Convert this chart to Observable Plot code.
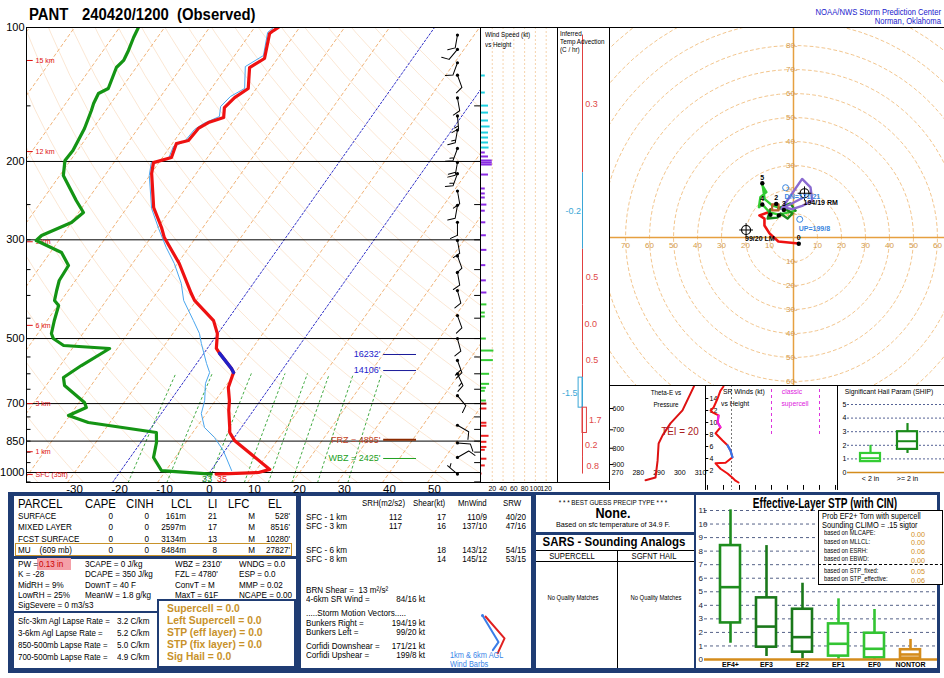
<!DOCTYPE html>
<html>
<head>
<meta charset="utf-8">
<script src="https://cdn.jsdelivr.net/npm/d3@7"></script>
<script src="https://cdn.jsdelivr.net/npm/@observablehq/plot@0.6"></script>
<style>
html,body{margin:0;padding:0;background:#fff;}
#root{position:relative;width:944px;height:678px;overflow:hidden;background:#fff;font-family:"Liberation Sans",Arial,Helvetica,sans-serif;}
.t{position:absolute;white-space:pre;}
.b{position:absolute;box-sizing:border-box;}
</style>
</head>
<body>
<div id="root"></div>
<script>
// ================= DATA =================
// Skew-T profiles (pressure hPa, temperature C)
const tempP = [100,101.6,103.2,117.4,123,137.1,143.7,151.3,159.3,163.5,168.6,179.5,182.3,196,201.2,212.8,253.8,281.5,296.5,339.1,396.1,410.5,455.6,487.4,526.2,539.8,583.7,595.9,644,689,725,792,813,847,984,1000,1008];
const tempT = [-54.7,-55.3,-55.7,-52.9,-54.8,-51.8,-53.4,-54.1,-52.7,-55.3,-56.6,-56.9,-59.1,-58,-61.2,-59.9,-54.1,-49.2,-47,-39.6,-32.2,-30.4,-23,-20.1,-18,-16.5,-11.5,-10.4,-9.2,-6.9,-5.5,-2.6,-1.8,0.5,12.9,10.9,1.7];
const dewP = [100,105.3,112.6,118.6,123,137.1,140.7,148.2,153.6,168.6,189,199,215.1,244.8,260.5,274.3,293.4,301.1,320.3,342.6,370.3,389.9,410.6,421.4,455.4,487.1,499.9,518.3,526.4,574.9,611.7,637.5,696.1,714.4,744.6,772.1,813,856.2,925.4,989.8,1008];
const dewT = [-85.8,-85.3,-84.4,-83.9,-84.4,-82.9,-84.3,-83.8,-83.2,-81.9,-81,-81.2,-79.2,-72.4,-68.9,-70,-74.6,-75,-67.5,-63.9,-63.6,-62.6,-61.5,-59.8,-58.4,-57,-55.8,-52.4,-41.7,-45.3,-47.4,-45.9,-38.8,-37.6,-40.3,-34.8,-18.1,-16.5,-14.8,-11,0.6];
const wbP = [100,102.6,115.6,122.4,137.1,142.9,150.5,158.5,164.3,169.5,180.4,185.1,197,201.1,215.1,255.1,282.9,312.2,339.1,376.1,410.6,455.4,487.1,513,569,596.1,631,688.9,737,792.2,834.3,892.4,989.8];
const wbT = [-55.8,-56.3,-53.6,-55.9,-52.6,-54.5,-55.1,-53.8,-56.2,-57.3,-57.6,-59.3,-58.5,-61.7,-60.1,-54.4,-49.7,-45,-40.7,-36,-32.8,-27.5,-24.1,-22.1,-17.8,-15.7,-14.9,-12.4,-11.1,-8.2,-4.4,-0.4,4.6];
const sfcTempF = "35", sfcDewF = "33";
const dgzTop = 539, dgzBot = 597;

// axes / grid values
const pLabels = [100,200,300,500,700,850,1000];
const pLines = [200,300,500,700,850,1000];
const pTicks = [150,200,250,300,350,400,450,500,550,600,650,700,750,800,850,900,950,1000,1050];
const tTicks = [-30,-20,-10,0,10,20,30,40,50];
const isoTemps = [-120,-110,-100,-90,-80,-70,-60,-50,-40,-30,-10,10,20,30,40,50];
const blueIso = [-20,0];
const thetaC = [-40,-30,-20,-10,0,10,20,30,40,50,60,70,80,90,100,110,120,130,140,150,160,170,180,190,200];
const mixW = [1,2,4,7,10,14,20,30];
const hgtLabels = ["15 km","12 km","9 km","6 km","3 km","1 km","SFC (35ft)"];
const hgtP = [118.6,190,303,467,700,898,1010];
const lvlText = ["16232'","14106'","FRZ = 4895'","WBZ = 2425'"];
const lvlP = [543,590,844,930];
const lvlColor = ["#2222cc","#2222cc","#c0401c","#22a022"];
const lvlLine = ["#1a1a99","#1a1a99","#8b2a00","#22a022"];

// wind speed vs height bars
const windP = [128.2,140,149.8,155.3,161.8,166.9,172.2,176.7,181.3,186.1,190.9,194.9,199,201.1,203.2,214,230,236,241,250,258,274,293,316,342,370,394,419,437,446,500,532,559,600,632,645,655,689,700,718,773,785,827,853,876,889,931,964,1005];
const windSpd = [7,7,13,13,13,16,13,13,13,14,7,13,20,20,20,13,7,7,7,10,7,8,9,10,8,9,10,10,7,7,9,23,22,15,15,9,7,9,10,10,10,10,14,10,10,7,10,7,1];
const spdTicks = [20,40,60,80,100,120];
// wind barbs
const barbP = [104,112,120,128,144,158,170,187,201,213,233,251,274,301,326,355,390,444,500,560,600,672,783,858,925,1008];
const barbDir = [190,220,200,160,170,175,190,200,190,200,170,190,180,170,160,170,165,160,165,160,155,140,120,95,60,310];
const barbSpd = [10,10,10,10,10,15,15,15,20,15,10,10,10,10,10,10,10,10,10,20,15,10,10,10,10,5];

// inferred temperature advection layers (C/hr)
const advTop = [104,212,315,420,510,612,715,815,925];
const advBot = [212,315,420,510,612,715,815,925,1008];
const advVal = [0.3,-0.2,0.5,0.0,0.5,-1.5,1.7,0.2,0.8];

// hodograph (u,v kt)
const hodoRed = [[2.1,-2.5],[-6.3,-1.7],[-10,1.7],[-12.1,5],[-12.1,7.9],[-14.2,9.2],[-10.8,10.4],[-9.6,11.7]];
const hodoDkGreen = [[-9.6,11.7],[-10.8,7.9],[-6.7,8.3],[-5.4,10],[-2.5,7.9],[-0.4,10],[-4.2,12.5],[-6.3,12.1],[-1.3,14.2],[0.8,11.2]];
const hodoLtGreen = [[0.8,11.2],[-6,9.5],[-10,10.5],[-13,13.8],[-14.4,12.6],[-13.8,16.8],[-11.3,18.9],[-13,21.7],[-13,22.6],[-12,16],[-9,13.5],[-5,12]];
const hodoPurple = [[-5,12],[-2.6,15.4],[3.6,24.4],[7.1,20.9],[7.8,15.3],[3.6,13.2],[-0.5,11.8],[-4,12.5],[1.5,15.3],[4.2,16.7]];
const hodoBrown = [[-8.9,13.8],[-6.2,13.8],[-6.2,11.3],[-8.9,11.3],[-8.9,13.8]];
const hodoDots = [[2.2,-2.6],[-9.6,9.5],[-6.1,9.2],[-4.0,11.5],[-7.2,14.0],[-13.0,13.75],[-13.0,22.6]];
const hodoDotLbl = ["0","","","3","2","4","5"];
const hodoRings = [10,20,30,40,50,60,70,80,90,100,110,120];
const hodoXTicks = [-70,-60,-50,-40,-30,-20,-10,10,20,30,40,50,60];
const hodoYTicks = [80,70,60,50,40,30,20,10,-10,-20,-30,-40,-50,-60];
const smText = ["194/19 RM","99/20 LM","UP=199/8","DN=171/21"];
const smDir = [194,99,199,171];
const smSpd = [19,20,8,21];

// theta-e vs pressure
const thetaP = [500,515,608,668,729,773,875,989,1008];
const thetaE = [307.5,306.6,301.3,295.5,291.7,289.8,289.3,288.3,283.5];
const thetaYTicks = [600,700,800,900];
const thetaXTicks = [270,280,290,300,310];

// storm-relative winds vs height
const srKm = [16,15.3,14,12.5,12,11.7,11.2,10,9.2,8.2,7,6.2,5.3,4.2,3.3,3.2,2.3,1.5,0.8,0.3,0];
const srKt = [10,8.1,6.3,3.8,1.9,3.1,6.9,6.3,8.1,5,9.4,12.5,14.4,15.6,11.3,5,8.1,12.5,15.6,17.5,19.4];
const srYTicks = [2,4,6,8,10,12,14];

// SHIP
const shipCats = ["< 2 in", ">= 2 in"];
const shipLo = [0.8,1.4], shipQ1 = [0.8,1.7], shipMed = [1.05,2.3], shipQ3 = [1.4,3.0], shipHi = [2.0,3.6];
const shipColors = ["#33cc33","#1a8a1a"];

// Effective-layer STP
const stpCats = ["EF4+","EF3","EF2","EF1","EF0","NONTOR"];
const stpLo = [1.2,0.22,0.05,0.0,0.0,0.0];
const stpQ1 = [2.7,0.91,0.54,0.25,0.12,0.1];
const stpMed = [5.34,2.43,1.65,1.16,0.79,0.37];
const stpQ3 = [8.41,4.55,3.71,2.63,1.94,0.72];
const stpHi = [11.05,8.41,5.63,4.48,3.69,1.48];
const stpColors = ["#1e8c1e","#1a781a","#1a781a","#33c433","#33c433","#d48c1c"];
const stpTicks = [0,1,2,3,4,5,6,7,8,9,10,11];
const probLabels = ["based on MLCAPE:","based on MLLCL:","based on ESRH:","based on EBWD:","based on STP_fixed:","based on STP_effective:"];
const probVals = ["0.00","0.00","0.06","0.00","0.05","0.06"];

// tables
const parcelNames = ["SURFACE","MIXED LAYER","FCST SURFACE","MU    (609 mb)"];
const parcelCape = ["0","0","0","0"];
const parcelCinh = ["0","0","0","0"];
const parcelLcl = ["161m","2597m","3134m","8484m"];
const parcelLi = ["21","17","13","8"];
const parcelLfc = ["M","M","M","M"];
const parcelEl = ["528'","8516'","10280'","27827'"];
const idxCol1 = ["PW = ","K = -28","MidRH = 9%","LowRH = 25%","SigSevere = 0 m3/s3"];
const idxCol2 = ["3CAPE = 0 J/kg","DCAPE = 350 J/kg","DownT = 40 F","MeanW = 1.8 g/kg"];
const idxCol3 = ["WBZ = 2310'","FZL = 4780'","ConvT = M","MaxT = 61F"];
const idxCol4 = ["WNDG = 0.0","ESP = 0.0","MMP = 0.02","NCAPE = 0.00"];
const pwValue = "0.13 in";
const lapseNames = ["Sfc-3km Agl Lapse Rate =","3-6km Agl Lapse Rate =","850-500mb Lapse Rate =","700-500mb Lapse Rate ="];
const lapseVals = ["3.2 C/km","5.2 C/km","5.0 C/km","4.9 C/km"];
const scpLines = ["Supercell = 0.0","Left Supercell = 0.0","STP (eff layer) = 0.0","STP (fix layer) = 0.0","Sig Hail = 0.0"];
const kinHead = ["SRH(m2/s2)","Shear(kt)","MnWind","SRW"];
const kinRows = ["SFC - 1 km","SFC - 3 km","SFC - 6 km","SFC - 8 km"];
const kinSrh = ["112","117","",""];
const kinShear = ["17","16","18","14"];
const kinMnWind = ["110/9","137/10","143/12","145/12"];
const kinSrw = ["40/20","47/16","54/15","53/15"];
const motionNames = ["Bunkers Right =","Bunkers Left =","Corfidi Downshear =","Corfidi Upshear ="];
const motionVals = ["194/19 kt","99/20 kt","171/21 kt","199/8 kt"];
const midBarbDir = [149,139];
const midBarbSpd = [10,10];
const midBarbColor = ["#3a7de8","#e02020"];

// ================= HELPERS =================
const root = document.getElementById("root");
function T(x, y, s, o = {}) {
  const size = o.size || 9;
  const d = document.createElement("div");
  d.className = "t";
  d.textContent = s;
  d.style.left = x + "px";
  d.style.top = (y - size * 0.5) + "px";
  d.style.fontSize = size + "px";
  d.style.lineHeight = size + "px";
  d.style.color = o.color || "#000";
  if (o.weight) d.style.fontWeight = o.weight;
  if (o.bg) d.style.background = o.bg;
  const sx = o.sx || 1;
  const a = o.anchor || "start";
  const tx = a === "end" ? "-100%" : a === "middle" ? "-50%" : "0";
  d.style.transformOrigin = a === "end" ? "right center" : a === "middle" ? "center center" : "left center";
  d.style.transform = `translateX(${tx}) scaleX(${sx})`;
  root.appendChild(d);
  return d;
}
function R(x, y, w, h, bg, border) {
  const d = document.createElement("div");
  d.className = "b";
  d.style.left = x + "px"; d.style.top = y + "px";
  d.style.width = w + "px"; d.style.height = h + "px";
  if (bg) d.style.background = bg;
  if (border) d.style.border = border;
  root.appendChild(d);
  return d;
}
function L(x1, y1, x2, y2, c = "#000", w = 1) {
  if (y1 === y2) R(Math.min(x1, x2), y1, Math.abs(x2 - x1), w, c);
  else R(x1, Math.min(y1, y2), w, Math.abs(y2 - y1), c);
}
function mount(fn, left, top) {
  try {
    const svg = fn();
    svg.style.position = "absolute";
    svg.style.left = left + "px";
    svg.style.top = top + "px";
    svg.style.overflow = "visible";
    svg.style.background = "transparent";
    svg.style.maxWidth = "none";
    svg.style.fontFamily = '"Liberation Sans", Arial, sans-serif';
    root.appendChild(svg);
  } catch (e) { console.error(e); }
}
function barbShape(spd, bl = 7, gap = 3) {
  return {
    draw(ctx, l) {
      ctx.moveTo(0, 0); ctx.lineTo(0, -l);
      let s = Math.round(spd / 5) * 5, pos = -l;
      while (s >= 50) { ctx.moveTo(0, pos); ctx.lineTo(bl, pos - bl * 0.3); ctx.lineTo(0, pos + 4); pos += 5; s -= 50; }
      while (s >= 10) { ctx.moveTo(0, pos); ctx.lineTo(bl, pos - bl * 0.45); pos += gap; s -= 10; }
      if (s >= 5) { if (pos === -l) pos += gap; ctx.moveTo(0, pos); ctx.lineTo(bl * 0.55, pos - bl * 0.25); }
    }
  };
}

// ================= BACKGROUND BOXES =================
const NAVY = "#1f3c73";
R(8, 492, 932, 181, NAVY);
R(14, 496, 282, 172, "#fff");
R(301, 496, 230, 172, "#fff");
R(536, 495, 158, 37, "#fff");
R(536, 535, 158, 133, "#fff");
R(696, 495, 241, 173, "#fff");

// ================= SKEW-T =================
const PMIN = 100, PMAX = 1053, XMIN = -40.67, XMAX = 60.22;
const sk = (t, p) => t + 30.4 * Math.log(1000 / p);
const tempData = tempP.map((p, i) => ({p, t: tempT[i]}));
const dewData = dewP.map((p, i) => ({p, t: dewT[i]}));
const wbData = wbP.map((p, i) => ({p, t: wbT[i]}));
const isoData = isoTemps.flatMap(t => [{t, p: PMAX}, {t, p: PMIN}]);
const blueData = blueIso.flatMap(t => [{t, p: PMAX}, {t, p: PMIN}]);
const adPs = d3.range(PMAX, 99, -25).concat([100]);
const adData = thetaC.flatMap(th => adPs.map(p => ({th, p, t: (th + 273.15) * Math.pow(p / 1000, 0.2857) - 273.15})));
const mrPs = d3.range(PMAX, 599, -25).concat([600]);
const mrData = mixW.flatMap(w => mrPs.map(p => {
  const e = w * p / (622 + w), a = Math.log(e / 6.112);
  return {w, p, t: 243.5 * a / (17.67 - a)};
}));
const barbData = barbP.map((p, i) => ({p, dir: barbDir[i], spd: barbSpd[i]}));
const barbSpeeds = [...new Set(barbSpd)];
const BARBX = 55.1;

mount(() => Plot.plot({
  width: 482, height: 500, marginLeft: 26, marginRight: 2, marginTop: 27, marginBottom: 18,
  x: {domain: [XMIN, XMAX], range: [26, 480], axis: null},
  y: {type: "log", domain: [PMIN, PMAX], range: [27, 482], axis: null},
  marks: [
    Plot.line(adData, {x: d => sk(d.t, d.p), y: "p", z: "th", stroke: "#fbe4cf", strokeWidth: 0.9, clip: true}),
    Plot.line(isoData, {x: d => sk(d.t, d.p), y: "p", z: "t", stroke: "#eeaa6a", strokeWidth: 0.9, strokeDasharray: "3,3", clip: true}),
    Plot.line(blueData, {x: d => sk(d.t, d.p), y: "p", z: "t", stroke: "#3030c8", strokeWidth: 1, strokeDasharray: "2,2", clip: true}),
    Plot.line(mrData, {x: d => sk(d.t, d.p), y: "p", z: "w", stroke: "#2ca02c", strokeWidth: 0.9, strokeDasharray: "2,3", clip: true}),
    Plot.ruleY(pLines, {stroke: "#000", strokeWidth: 1}),
    Plot.ruleY(pTicks, {x1: XMIN, x2: XMIN + 1, stroke: "#000"}),
    Plot.ruleY(pTicks, {x1: XMAX - 1.3, x2: XMAX, stroke: "#000"}),
    Plot.ruleY(hgtP, {x1: XMIN, x2: XMIN + 1.5, stroke: "#dd1111"}),
    Plot.text(hgtLabels, {x: XMIN, y: (d, i) => hgtP[i], text: d => d, dx: 9, textAnchor: "start", fill: "#dd1111", fontSize: 7}),
    Plot.text(pLabels, {x: XMIN, y: d => d, text: d => String(d), dx: -2, textAnchor: "end", fontSize: 11}),
    Plot.text(tTicks, {x: d => d, y: PMAX, dy: 7, text: d => String(d), fontSize: 11.5}),
    Plot.line(dewData, {x: d => sk(d.t, d.p), y: "p", stroke: "#149414", strokeWidth: 3.2, clip: true}),
    Plot.line(wbData, {x: d => sk(d.t, d.p), y: "p", stroke: "#4aa6ee", strokeWidth: 1, clip: true}),
    Plot.line(tempData, {x: d => sk(d.t, d.p), y: "p", stroke: "#ee1111", strokeWidth: 3.2, clip: true}),
    Plot.line(tempData.filter(d => d.p >= dgzTop && d.p <= dgzBot), {x: d => sk(d.t, d.p), y: "p", stroke: "#2020c8", strokeWidth: 3.4}),
    Plot.ruleY(lvlP, {x1: 38.7, x2: 46.0, stroke: (d, i) => lvlLine[i], strokeWidth: (d, i) => i === 2 ? 2 : 1}),
    Plot.text(lvlText, {x: 38.0, y: (d, i) => lvlP[i], text: d => d, textAnchor: "end", fill: (d, i) => lvlColor[i], fontSize: 9}),
    Plot.text([sfcDewF], {x: sk(dewT[dewT.length - 1], dewP[dewP.length - 1]), y: PMAX, dx: -4, dy: -3, text: d => d, fill: "#22a022", fontSize: 9}),
    Plot.text([sfcTempF], {x: sk(tempT[tempT.length - 1], tempP[tempP.length - 1]), y: PMAX, dx: 6, dy: -3, text: d => d, fill: "#ee2222", fontSize: 9}),
    ...barbSpeeds.map(s => Plot.vector(barbData.filter(d => d.spd === s), {x: BARBX, y: "p", rotate: "dir", length: 13, anchor: "start", shape: barbShape(s, 7, 3), stroke: "#000", strokeWidth: 1})),
    Plot.dot(barbData, {x: BARBX, y: "p", r: 1.6, fill: "#000"})
  ]
}), 0, 0);

// ================= WIND SPEED PANEL =================
const windData = windP.map((p, i) => ({p, s: windSpd[i]}));
const windColor = p => p < 190 ? "#1fd0e0" : p < 410 ? "#8a2be2" : p < 700 ? "#33cc33" : p < 702 ? "#a00000" : "#ee2020";
mount(() => Plot.plot({
  width: 77, height: 500, marginLeft: 0, marginRight: 0, marginTop: 27, marginBottom: 18,
  x: {domain: [0, 141], range: [1, 77], axis: null},
  y: {type: "log", domain: [PMIN, PMAX], range: [27, 482], axis: null},
  color: {type: "identity"},
  marks: [
    Plot.ruleX(spdTicks, {stroke: "#f2c898", strokeDasharray: "2,2", strokeWidth: 0.8}),
    Plot.ruleY(windData, {y: "p", x1: 0, x2: "s", stroke: d => windColor(d.p), strokeWidth: 2}),
    Plot.text(spdTicks, {x: d => d, y: PMAX, dy: 6, text: d => String(d), fontSize: 7})
  ]
}), 480, 0);

// ================= TEMPERATURE ADVECTION =================
const advData = advVal.map((v, i) => ({v, top: advTop[i], bot: advBot[i]}));
mount(() => Plot.plot({
  width: 53, height: 500, marginLeft: 0, marginRight: 0, marginTop: 27, marginBottom: 18,
  x: {domain: [-9.62, 10.77], range: [0, 53], axis: null},
  y: {type: "log", domain: [PMIN, PMAX], range: [27, 482], axis: null},
  color: {type: "identity"},
  marks: [
    Plot.ruleX(advData, {x: 0, y1: "top", y2: "bot", stroke: d => d.v < 0 ? "#3aa6d6" : "#e04040", strokeWidth: 1}),
    Plot.rect(advData.filter(d => Math.abs(d.v) >= 1), {x1: 0, x2: "v", y1: "top", y2: "bot", fill: "none", stroke: d => d.v < 0 ? "#3aa6d6" : "#e04040", strokeWidth: 1}),
    Plot.text(advData.filter(d => d.v >= 0), {x: "v", y: d => Math.sqrt(d.top * d.bot), text: d => d.v.toFixed(1), textAnchor: "start", dx: 2, fill: "#e04848", fontSize: 9}),
    Plot.text(advData.filter(d => d.v < 0), {x: "v", y: d => Math.sqrt(d.top * d.bot), text: d => d.v.toFixed(1), textAnchor: "end", dx: -1, fill: "#3aa6d6", fontSize: 9})
  ]
}), 557, 0);

// ================= HODOGRAPH =================
const toPts = (arr) => arr.map(([u, v]) => ({u, v}));
const ringData = hodoRings.flatMap(r => d3.range(0, 361, 4).map(a => ({r, u: r * Math.cos(a * Math.PI / 180), v: r * Math.sin(a * Math.PI / 180)})));
const smData = smDir.map((dir, i) => ({u: -smSpd[i] * Math.sin(dir * Math.PI / 180), v: -smSpd[i] * Math.cos(dir * Math.PI / 180), t: smText[i]}));
const dotData = hodoDots.map(([u, v], i) => ({u, v, l: hodoDotLbl[i]}));
mount(() => Plot.plot({
  width: 334, height: 358, margin: 0,
  x: {domain: [-76.25, 62.92], range: [0, 334], axis: null},
  y: {domain: [-61.67, 87.5], range: [358, 0], axis: null},
  marks: [
    Plot.line(ringData, {x: "u", y: "v", z: "r", stroke: "#f3c68e", strokeWidth: 1, strokeDasharray: "3,3", clip: true}),
    Plot.ruleX([0], {stroke: "#e6a040", strokeWidth: 1.5}),
    Plot.ruleY([0], {stroke: "#e6a040", strokeWidth: 1.5}),
    Plot.text(hodoXTicks, {x: d => d, y: 0, dy: 8, text: d => String(Math.abs(d)), fill: "#d49a48", fontSize: 8}),
    Plot.text(hodoYTicks, {x: 0, y: d => d, dx: 4, text: d => Math.abs(d) + "-", textAnchor: "end", fill: "#d49a48", fontSize: 8}),
    Plot.line(toPts(hodoRed), {x: "u", y: "v", stroke: "#ee1111", strokeWidth: 2.6}),
    Plot.line(toPts(hodoLtGreen), {x: "u", y: "v", stroke: "#33cc33", strokeWidth: 2.4}),
    Plot.line(toPts(hodoDkGreen), {x: "u", y: "v", stroke: "#1a8a1a", strokeWidth: 2.4}),
    Plot.line(toPts(hodoPurple), {x: "u", y: "v", stroke: "#8a6ad0", strokeWidth: 2.4}),
    Plot.line(toPts(hodoBrown), {x: "u", y: "v", stroke: "#c0622a", strokeWidth: 2.2}),
    Plot.dot(dotData, {x: "u", y: "v", r: 2.2, fill: "#000"}),
    Plot.text(dotData, {x: "u", y: "v", text: "l", dy: -6, fontSize: 7, fontWeight: "bold"}),
    Plot.dot(smData.slice(0, 2), {x: "u", y: "v", r: 4.5, stroke: "#000", strokeWidth: 1.2, fill: "white"}),
    Plot.dot(smData.slice(0, 2), {x: "u", y: "v", symbol: "plus", r: 4.5, stroke: "#000", strokeWidth: 1}),
    Plot.dot(smData.slice(2), {x: "u", y: "v", r: 3, stroke: "#3a86e0", strokeWidth: 1}),
    Plot.text(smData.slice(0, 2), {x: "u", y: "v", text: "t", dx: -1, dy: 9, textAnchor: "start", fontSize: 7, fontWeight: "bold"}),
    Plot.text(smData.slice(2), {x: "u", y: "v", text: "t", dx: -1, dy: 9, textAnchor: "start", fill: "#3a86e0", fontSize: 7, fontWeight: "bold"})
  ]
}), 610, 27);

// ================= THETA-E =================
const thetaData = thetaP.map((p, i) => ({p, te: thetaE[i]}));
mount(() => Plot.plot({
  width: 95, height: 105, margin: 0,
  x: {domain: [266.6, 312.4], range: [0, 95], axis: null},
  y: {type: "log", domain: [508, 1086], range: [0, 105], axis: null},
  marks: [
    Plot.ruleY(thetaYTicks, {x1: 266.6, x2: 268.2, stroke: "#000"}),
    Plot.text(thetaYTicks, {frameAnchor: "left", y: d => d, text: d => String(d), dx: 2, textAnchor: "start", fontSize: 7}),
    Plot.text(thetaXTicks, {x: d => d, frameAnchor: "bottom", dy: -16, text: d => String(d), fontSize: 7}),
    Plot.line(thetaData, {x: "te", y: "p", stroke: "#dd1111", strokeWidth: 2, clip: true})
  ]
}), 610, 385);

// ================= SR WINDS =================
const srData = srKm.map((k, i) => ({k, s: srKt[i]}));
mount(() => Plot.plot({
  width: 132, height: 105, margin: 0,
  x: {domain: [0, 81.25], range: [2, 132], axis: null},
  y: {domain: [0, 16.17], range: [97, 0], axis: null},
  marks: [
    Plot.ruleX([15], {stroke: "#777", strokeDasharray: "2,2"}),
    Plot.ruleX([40, 70], {y1: 8, y2: 16.17, stroke: "#dd33dd", strokeDasharray: "3,3"}),
    Plot.ruleX(d3.range(0, 90, 10), {y1: -1.3, y2: -0.5, stroke: "#000"}),
    Plot.ruleY(srYTicks, {x1: -1.2, x2: 0.8, stroke: "#000"}),
    Plot.text(srYTicks, {x: 0, y: d => d, text: d => String(d), dx: 2, textAnchor: "start", fontSize: 7}),
    Plot.line(srData, {x: "s", y: "k", stroke: "#ee1111", strokeWidth: 2, clip: true}),
    Plot.line(srData.filter(d => d.k >= 9.2 && d.k <= 11.2), {x: "s", y: "k", stroke: "#ee22ee", strokeWidth: 2.2}),
    Plot.line(srData.filter(d => d.k >= 4.2 && d.k <= 6.2), {x: "s", y: "k", stroke: "#3377ee", strokeWidth: 2.2})
  ]
}), 705, 385);

// ================= SHIP =================
const shipData = shipCats.map((c, i) => ({cat: c, lo: shipLo[i], q1: shipQ1[i], med: shipMed[i], q3: shipQ3[i], hi: shipHi[i], color: shipColors[i]}));
mount(() => Plot.plot({
  width: 107, height: 105, marginLeft: 10, marginRight: 0, marginTop: 0, marginBottom: 0,
  x: {type: "band", domain: shipCats, range: [22.5, 81.5], paddingInner: 0.447, paddingOuter: 0, axis: null},
  y: {domain: [0, 5], range: [87, 19], axis: null},
  color: {type: "identity"},
  marks: [
    Plot.ruleY([1, 2, 3, 4, 5], {stroke: "#2a3a7a", strokeDasharray: "2,2", strokeWidth: 0.8}),
    Plot.text([0, 1, 2, 3, 4, 5], {frameAnchor: "left", y: d => d, text: d => String(d), dx: -5, fontSize: 7}),
    Plot.ruleX(shipData, {x: "cat", y1: "lo", y2: "hi", stroke: "color", strokeWidth: 2.2}),
    Plot.barY(shipData, {x: "cat", y1: "q1", y2: "q3", fill: "white", stroke: "color", strokeWidth: 2.2}),
    Plot.tickY(shipData, {x: "cat", y: "med", stroke: "color", strokeWidth: 2}),
    Plot.ruleY([0], {stroke: "#d48c1c", strokeWidth: 1.5}),
    Plot.text(shipData, {x: "cat", y: 0, dy: 6, text: "cat", fontSize: 7})
  ]
}), 837, 385);

// ================= STP =================
const stpData = stpCats.map((c, i) => ({cat: c, lo: stpLo[i], q1: stpQ1[i], med: stpMed[i], q3: stpQ3[i], hi: stpHi[i], color: stpColors[i]}));
mount(() => Plot.plot({
  width: 241, height: 173, marginLeft: 8, marginRight: 0, marginTop: 0, marginBottom: 0,
  x: {type: "band", domain: stpCats, range: [21.5, 226], paddingInner: 0.458, paddingOuter: 0, axis: null},
  y: {domain: [0, 11], range: [164, 15], axis: null},
  color: {type: "identity"},
  marks: [
    Plot.ruleY(stpTicks.slice(1), {stroke: "#2a3a6a", strokeDasharray: "3,3", strokeWidth: 0.8}),
    Plot.text(stpTicks, {frameAnchor: "left", y: d => d, text: d => String(d), dx: -6, fontSize: 8, fill: "#223"}),
    Plot.ruleX(stpData, {x: "cat", y1: "lo", y2: "hi", stroke: "color", strokeWidth: 2.6}),
    Plot.barY(stpData, {x: "cat", y1: "q1", y2: "q3", fill: "white", stroke: "color", strokeWidth: 2.6}),
    Plot.tickY(stpData, {x: "cat", y: "med", stroke: "color", strokeWidth: 2.6}),
    Plot.ruleY([0], {stroke: "#d48c1c", strokeWidth: 2.5}),
    Plot.text(stpData, {x: "cat", y: 0, dy: 5, text: "cat", fontSize: 7, fontWeight: "bold"})
  ]
}), 696, 495);

// 1 km & 6 km barbs in kinematic box
const midBarbs = midBarbDir.map((dir, i) => ({dir, spd: midBarbSpd[i], c: midBarbColor[i]}));
mount(() => Plot.plot({
  width: 45, height: 50, margin: 0,
  x: {domain: [0, 1], range: [7, 8], axis: null},
  y: {domain: [0, 1], range: [7, 8], axis: null},
  color: {type: "identity"},
  marks: [
    Plot.vector([midBarbs[0]], {x: 0, y: 0, rotate: "dir", length: 31, anchor: "start", shape: barbShape(midBarbSpd[0], 9, 4), stroke: "c", strokeWidth: 2}),
    Plot.vector([midBarbs[1]], {x: 0, y: 0, dx: 3, dy: 1, rotate: "dir", length: 29, anchor: "start", shape: barbShape(midBarbSpd[1], 15, 4), stroke: "c", strokeWidth: 2}),
    Plot.dot([midBarbs[0]], {x: 0, y: 0, r: 1.5, fill: "c"})
  ]
}), 475, 608);

// ================= FRAME LINES =================
L(26, 27, 944, 27);
L(26, 27, 26, 482);
L(26, 482, 610, 482);
L(480, 27, 480, 482);
L(557, 27, 557, 482);
L(609, 27, 609, 490);
L(609, 385, 944, 385);
L(705, 385, 705, 490);
L(837, 385, 837, 490);

// ================= TEXT =================
T(29, 15, "PANT", {size: 16, weight: "bold", sx: 0.93});
T(82, 15, "240420/1200", {size: 16, weight: "bold", sx: 0.93});
T(177, 15, "(Observed)", {size: 16, weight: "bold", sx: 0.93});
T(941, 12, "NOAA/NWS Storm Prediction Center", {size: 8.5, anchor: "end", color: "#2020cc", sx: 0.9});
T(941, 21, "Norman, Oklahoma", {size: 8.5, anchor: "end", color: "#2020cc", sx: 0.9});
T(485, 34, "Wind Speed (kt)", {size: 7, sx: 0.9});
T(485, 44, "vs Height", {size: 7, sx: 0.9});
T(560, 33, "Inferred", {size: 7, sx: 0.9});
T(560, 41, "Temp Advection", {size: 7, sx: 0.9});
T(560, 49, "(C / hr)", {size: 7, sx: 0.9});
T(666, 392, "Theta-E vs", {size: 7, anchor: "middle", sx: 0.9});
T(666, 404, "Pressure", {size: 7, anchor: "middle", sx: 0.9});
T(680, 431, "TEI = 20", {size: 11, anchor: "middle", color: "#aa2020", sx: 0.9});
T(723, 392, "SR Winds (kt)", {size: 7.5, sx: 0.9});
T(721, 404, "vs Height", {size: 7.5, sx: 0.9});
T(792, 392, "classic", {size: 7.5, anchor: "middle", color: "#dd22dd", sx: 0.9});
T(795, 404, "supercell", {size: 7.5, anchor: "middle", color: "#dd22dd", sx: 0.9});
T(889, 392, "Significant Hail Param (SHIP)", {size: 7.5, anchor: "middle", sx: 0.9});

// Panel A: parcels
const colX = [85, 126, 171, 208, 228, 268];
["PARCEL", "CAPE", "CINH", "LCL", "LI", "LFC", "EL"].forEach((h, i) => T(i === 0 ? 18 : colX[i - 1], 503, h, {size: 13, sx: 0.87}));
const rowY = [516, 527, 539, 550];
R(15, 543, 277, 13, null, "1.5px solid #c8922a");
parcelNames.forEach((n, i) => {
  const y = rowY[i];
  T(18, y, n, {size: 9, sx: 0.9});
  T(113, y, parcelCape[i], {size: 9, anchor: "end", sx: 0.9});
  T(149, y, parcelCinh[i], {size: 9, anchor: "end", sx: 0.9});
  T(186, y, parcelLcl[i], {size: 9, anchor: "end", sx: 0.9});
  T(217, y, parcelLi[i], {size: 9, anchor: "end", sx: 0.9});
  T(255, y, parcelLfc[i], {size: 9, anchor: "end", sx: 0.9});
  T(290, y, parcelEl[i], {size: 9, anchor: "end", sx: 0.9});
});
L(14, 556, 296, 556, NAVY, 3);
const idxY = [564, 574.5, 585, 595.5, 605];
R(37, 558, 34, 12, "#f4a0a8");
idxCol1.forEach((s, i) => T(18, idxY[i], s, {size: 9, sx: 0.9}));
T(39, idxY[0], pwValue, {size: 9, sx: 0.9, color: "#cc0000"});
idxCol2.forEach((s, i) => T(85, idxY[i], s, {size: 9, sx: 0.9}));
idxCol3.forEach((s, i) => T(175, idxY[i], s, {size: 9, sx: 0.9}));
idxCol4.forEach((s, i) => T(239, idxY[i], s, {size: 9, sx: 0.9}));
L(14, 611, 158, 611, NAVY, 2);
R(157, 599, 139, 69, "#fff", "2px solid " + NAVY);
const lapseY = [621, 633, 645, 657];
lapseNames.forEach((s, i) => T(18, lapseY[i], s, {size: 9, sx: 0.88}));
lapseVals.forEach((s, i) => T(117, lapseY[i], s, {size: 9, sx: 0.9}));
const scpY = [609, 621, 633, 645, 657];
scpLines.forEach((s, i) => T(167, scpY[i], s, {size: 11.5, weight: "bold", color: "#c8922a", sx: 0.9}));

// Panel B: kinematics
const kinHX = [362, 413, 458, 503];
kinHead.forEach((h, i) => T(kinHX[i], 503, h, {size: 9, sx: 0.87}));
const kinY = [517, 526.5, 550, 559.5];
kinRows.forEach((r, i) => {
  T(306, kinY[i], r, {size: 9, sx: 0.9});
  T(402, kinY[i], kinSrh[i], {size: 9, anchor: "end", sx: 0.9});
  T(446, kinY[i], kinShear[i], {size: 9, anchor: "end", sx: 0.9});
  T(487, kinY[i], kinMnWind[i], {size: 9, anchor: "end", sx: 0.9});
  T(526, kinY[i], kinSrw[i], {size: 9, anchor: "end", sx: 0.9});
});
T(306, 590, "BRN Shear =  13 m\u00b2/s\u00b2", {size: 9, sx: 0.9});
T(306, 599.5, "4-6km SR Wind =", {size: 9, sx: 0.9});
T(425, 599.5, "84/16 kt", {size: 9, anchor: "end", sx: 0.9});
T(306, 613.5, ".....Storm Motion Vectors.....", {size: 9, sx: 0.9});
const motY = [623, 632.5, 646, 655.5];
motionNames.forEach((s, i) => { T(306, motY[i], s, {size: 9, sx: 0.9}); T(425, motY[i], motionVals[i], {size: 9, anchor: "end", sx: 0.9}); });
T(450, 655, "1km & 6km AGL", {size: 8.5, color: "#3a86e8", sx: 0.87});
T(450, 664, "Wind Barbs", {size: 8.5, color: "#3a86e8", sx: 0.87});

// Panel C: precip / SARS
T(613, 502, "* * * BEST GUESS PRECIP TYPE * * *", {size: 7, anchor: "middle", sx: 0.9});
T(613, 513, "None.", {size: 14, weight: "bold", anchor: "middle", sx: 0.9});
T(613, 525, "Based on sfc temperature of 34.9 F.", {size: 8, anchor: "middle", sx: 0.9});
T(614, 542, "SARS - Sounding Analogs", {size: 13.5, weight: "bold", anchor: "middle", sx: 0.85});
L(536, 550, 694, 550, "#000", 1);
L(536, 561, 694, 561, "#000", 1);
L(617, 550, 617, 668, "#000", 1);
T(572, 556, "SUPERCELL", {size: 8.5, anchor: "middle", sx: 0.9});
T(654, 556, "SGFNT HAIL", {size: 8.5, anchor: "middle", sx: 0.9});
T(573, 598, "No Quality Matches", {size: 6.5, anchor: "middle", sx: 0.9});
T(656, 598, "No Quality Matches", {size: 6.5, anchor: "middle", sx: 0.9});

// Panel D: STP
T(825, 503, "Effective-Layer STP (with CIN)", {size: 14, weight: "bold", anchor: "middle", sx: 0.72});
R(818, 510, 125, 75, "#fff", "1px solid #000");
T(822, 516, "Prob EF2+ Torn with supercell", {size: 8.5, sx: 0.87});
T(822, 525, "Sounding CLIMO = .15 sigtor", {size: 8.5, sx: 0.87});
const probY = [533.5, 542, 551, 559.5, 571, 579.5];
probLabels.forEach((s, i) => { T(824, probY[i], s, {size: 6.5, sx: 0.9}); T(925, probY[i] + 1, probVals[i], {size: 8, anchor: "end", color: "#d4901c", sx: 0.9}); });
R(818, 564, 125, 0, null, "none").style.borderTop = "1px dashed #000";
</script>
</body>
</html>
